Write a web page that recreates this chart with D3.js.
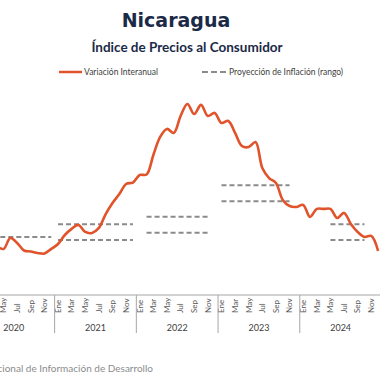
<!DOCTYPE html>
<html>
<head>
<meta charset="utf-8">
<script src="https://cdn.jsdelivr.net/npm/d3@7"></script>
<style>
  body { margin: 0; background: #fff; }
  svg { display: block; font-family: Lato, "Open Sans", sans-serif; }
</style>
</head>
<body>
<script>
// months and years on the x axis
var years = [2020, 2021, 2022, 2023, 2024];
var monthNames = ["Ene", "Feb", "Mar", "Abr", "May", "Jun", "Jul", "Ago", "Sep", "Oct", "Nov", "Dic"];
var tickMonths = ["Ene", "Mar", "May", "Jul", "Sep", "Nov"];

// variación interanual (%), one value per month from Ene 2020 to Dic 2024
var inflation = [
  null, null, null, 3.06, 2.88, 3.56, 3.25, 2.78, 2.72, 2.63, 2.59, 2.88,
  3.19, 3.75, 4.13, 4.38, 3.94, 3.88, 4.19, 5.06, 5.75, 6.31, 6.94, 7.03,
  7.50, 7.53, 8.75, 9.88, 10.38, 10.13, 11.19, 11.94, 11.31, 11.88, 11.19, 11.38,
  10.75, 10.88, 10.13, 9.31, 9.25, 9.56, 7.94, 7.31, 7.00, 5.94, 5.56, 5.50,
  5.63, 4.88, 5.38, 5.38, 5.38, 4.81, 5.13, 4.44, 3.94, 3.63, 3.69, 2.75
];

// proyección de inflación (rango)
var projFrom = ["Ene 2020", "Ene 2021", "Feb 2022", "Ene 2023", "May 2024"];
var projTo = ["Dic 2020", "Dic 2021", "Nov 2022", "Nov 2023", "Oct 2024"];
var projHigh = [3.63, 4.42, 4.89, 6.86, 4.42];
var projLow = [null, 3.44, 3.89, 5.86, 3.44];

var width = 380, height = 380;
var navy = "#1b2a47";
var orange = "#e0532b";
var dashGray = "#8a8a8a";

// list of month keys
var months = [];
years.forEach(function (y) {
  monthNames.forEach(function (m) { months.push(m + " " + y); });
});

var svg = d3.select("body").append("svg")
  .attr("width", width)
  .attr("height", height);

// the chart is wider than the window, so the scale runs past both edges
var x = d3.scaleBand()
  .domain(months)
  .range([-27.1, 381.5]);

var y = d3.scaleLinear()
  .domain([0, 12])
  .range([295, 103]);

var cx = function (key) { return x(key) + x.bandwidth() / 2; };

// titles
svg.append("text")
  .attr("x", 176).attr("y", 27)
  .attr("text-anchor", "middle")
  .style("font-family", "DejaVu Sans")
  .style("font-weight", "bold")
  .style("font-size", "19px")
  .style("fill", navy)
  .text("Nicaragua");

svg.append("text")
  .attr("x", 187).attr("y", 52)
  .attr("text-anchor", "middle")
  .style("font-weight", "bold")
  .style("font-size", "13.5px")
  .style("fill", navy)
  .text("Índice de Precios al Consumidor");

// legend
var legend = svg.append("g");
legend.append("line")
  .attr("x1", 59).attr("x2", 82).attr("y1", 72).attr("y2", 72)
  .style("stroke", orange).style("stroke-width", 2.5);
legend.append("text")
  .attr("x", 84).attr("y", 75)
  .style("font-size", "8.5px").style("fill", "#404040")
  .text("Variación Interanual");
legend.append("line")
  .attr("x1", 202).attr("x2", 226).attr("y1", 72).attr("y2", 72)
  .style("stroke", dashGray).style("stroke-width", 2)
  .style("stroke-dasharray", "6,3");
legend.append("text")
  .attr("x", 229).attr("y", 75)
  .style("font-size", "8.5px").style("fill", "#404040")
  .text("Proyección de Inflación (rango)");

// projection dashed lines
var proj = svg.append("g");
[projHigh, projLow].forEach(function (level) {
  level.forEach(function (v, i) {
    if (v === null) return;
    proj.append("line")
      .attr("x1", cx(projFrom[i]))
      .attr("x2", cx(projTo[i]))
      .attr("y1", y(v))
      .attr("y2", y(v))
      .style("stroke", dashGray)
      .style("stroke-width", 2)
      .style("stroke-dasharray", "5,3");
  });
});

// inflation line
var line = d3.line()
  .defined(function (d) { return d !== null; })
  .x(function (d, i) { return cx(months[i]); })
  .y(function (d) { return y(d); })
  .curve(d3.curveCatmullRom);

svg.append("path")
  .datum(inflation)
  .attr("d", line)
  .style("fill", "none")
  .style("stroke", orange)
  .style("stroke-width", 2.6)
  .style("stroke-linejoin", "round");

// x axis: base line
svg.append("line")
  .attr("x1", 0).attr("x2", width)
  .attr("y1", y(0)).attr("y2", y(0))
  .style("stroke", "#a6a6a6").style("stroke-width", 1);

// month labels (only the ones that fall inside the window)
svg.append("g")
  .selectAll("text")
  .data(months.filter(function (m) {
    return tickMonths.indexOf(m.split(" ")[0]) !== -1 && cx(m) > 0;
  }))
  .enter()
  .append("text")
  .attr("transform", function (d) { return "translate(" + cx(d) + ",313)rotate(-90)"; })
  .attr("dy", "0.35em")
  .style("font-size", "8px")
  .style("fill", "#595959")
  .text(function (d) { return d.split(" ")[0]; });

// year separators and labels
years.forEach(function (yr) {
  var start = x("Ene " + yr);
  svg.append("line")
    .attr("x1", start).attr("x2", start)
    .attr("y1", y(0)).attr("y2", 333)
    .style("stroke", "#a6a6a6").style("stroke-width", 1);
  svg.append("text")
    .attr("x", start + 6 * x.step())
    .attr("y", 330.5)
    .attr("text-anchor", "middle")
    .style("font-size", "9px")
    .style("fill", "#404040")
    .text(yr);
});

// source
svg.append("text")
  .attr("x", 153).attr("y", 372)
  .attr("text-anchor", "end")
  .style("font-size", "10px")
  .style("fill", "#8c8c8c")
  .text("Fuente: Instituto Nacional de Información de Desarrollo");
</script>
</body>
</html>
